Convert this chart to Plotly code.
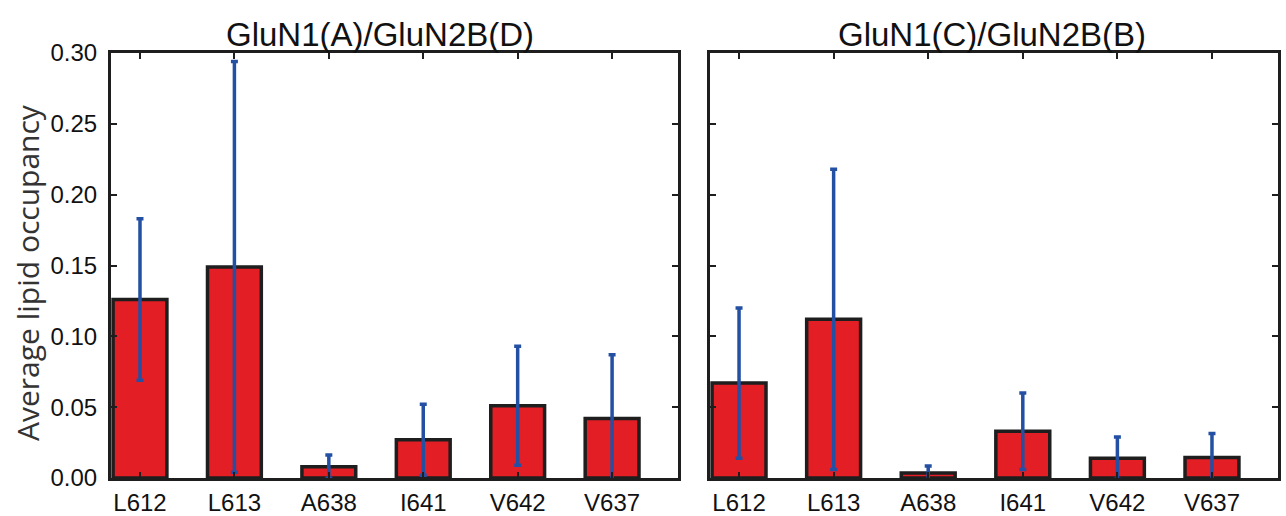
import plotly.graph_objects as go

residues = ["L612", "L613", "A638", "I641", "V642", "V637"]
titles = ["GluN1(A)/GluN2B(D)", "GluN1(C)/GluN2B(B)"]

occ_AD = [0.126, 0.149, 0.008, 0.027, 0.051, 0.042]
err_AD = [0.057, 0.145, 0.0082, 0.025, 0.042, 0.045]

occ_CB = [0.067, 0.112, 0.0035, 0.033, 0.014, 0.0145]
err_CB = [0.053, 0.106, 0.005, 0.027, 0.015, 0.017]

y_ticks = [0.00, 0.05, 0.10, 0.15, 0.20, 0.25, 0.30]

FONT = "Liberation Sans"
RED = "#e31e24"
EDGE = "#1e1e1e"
BLUE = "#2450a4"
W, H = 1286, 516

xpos = list(range(1, len(residues) + 1))

fig = go.Figure()
for i, (occ, err) in enumerate([(occ_AD, err_AD), (occ_CB, err_CB)]):
    suffix = "" if i == 0 else "2"
    fig.add_trace(go.Bar(
        x=xpos, y=occ, width=0.57,
        marker=dict(color=RED, line=dict(color=EDGE, width=3.5)),
        error_y=dict(type="data", array=err, visible=True, color=BLUE,
                     thickness=3.5, width=3.5),
        xaxis="x" + suffix, yaxis="y" + suffix, showlegend=False,
    ))

def px_x(p):
    return p / W

def px_y(p):
    return (H - p) / H

ydom = [px_y(478), px_y(53)]
axis_common = dict(
    showline=True, linecolor=EDGE, linewidth=3, mirror="allticks",
    ticks="inside", ticklen=6, tickwidth=2, tickcolor=EDGE,
    showgrid=False, zeroline=False, automargin=False,
    tickfont=dict(family=FONT, size=24, color="#111"),
)
xaxis_common = dict(axis_common, tickvals=xpos, ticktext=residues,
                    range=[0.693, 6.698], ticklabelstandoff=1)
yaxis_common = dict(axis_common, range=[0, 0.30], tickvals=y_ticks,
                    tickformat=".2f")

fig.update_layout(
    width=W, height=H,
    margin=dict(l=0, r=0, t=0, b=0, pad=0, autoexpand=False),
    paper_bgcolor="white", plot_bgcolor="white",
    xaxis=dict(xaxis_common, domain=[px_x(111), px_x(678)], anchor="y"),
    yaxis=dict(yaxis_common, domain=ydom, anchor="x", ticklabelstandoff=6),
    xaxis2=dict(xaxis_common, domain=[px_x(710), px_x(1278)], anchor="y2"),
    yaxis2=dict(yaxis_common, domain=ydom, anchor="x2", showticklabels=False),
    annotations=[
        dict(text=titles[0], x=px_x(380), y=px_y(34), xref="paper", yref="paper",
             showarrow=False, xanchor="center", yanchor="middle",
             font=dict(family=FONT, size=33, color="#111")),
        dict(text=titles[1], x=px_x(992), y=px_y(34), xref="paper", yref="paper",
             showarrow=False, xanchor="center", yanchor="middle",
             font=dict(family=FONT, size=33, color="#111")),
        dict(text="Average lipid occupancy", x=px_x(27), y=px_y(273),
             xref="paper", yref="paper", showarrow=False, textangle=-90,
             xanchor="center", yanchor="middle",
             font=dict(family="Open Sans", size=30, color="#333")),
    ],
)

fig.write_html("out.html")
